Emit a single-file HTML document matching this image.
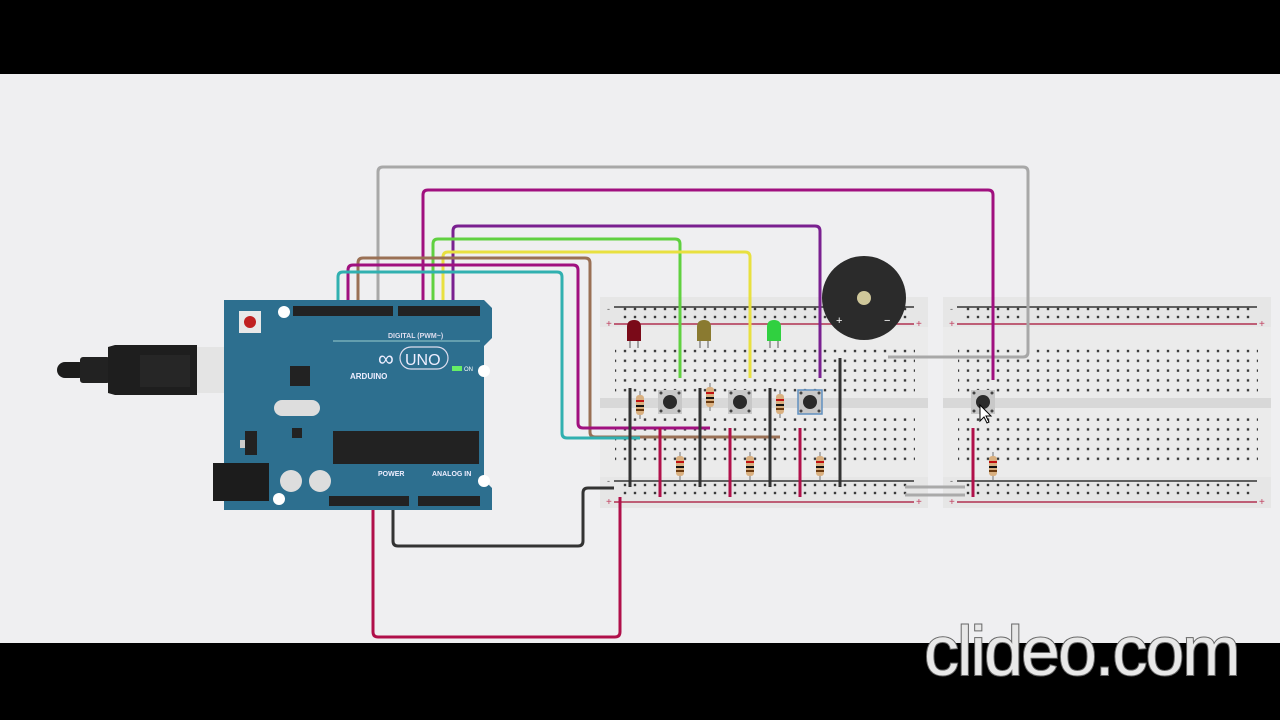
<!DOCTYPE html>
<html><head><meta charset="utf-8"><style>
html,body{margin:0;padding:0;width:1280px;height:720px;overflow:hidden;background:#efeff1}
svg{display:block}
</style></head><body>
<svg width="1280" height="720" viewBox="0 0 1280 720" xmlns="http://www.w3.org/2000/svg" font-family="Liberation Sans, sans-serif">
<defs>
<pattern id="hole" x="0" y="0" width="10" height="9.8" patternUnits="userSpaceOnUse"><rect x="3.8" y="3.8" width="2.4" height="2.4" fill="#3a3a3a"/></pattern>
<pattern id="rail" x="0" y="0" width="10" height="8" patternUnits="userSpaceOnUse"><rect x="3.8" y="2.8" width="2.4" height="2.4" fill="#3a3a3a"/></pattern>
<g id="bb">
<rect x="0" y="0" width="328" height="211" fill="#e6e6e6"/>
<rect x="0" y="30" width="328" height="150" fill="#ebebeb"/>
<rect x="0" y="101" width="328" height="10" fill="#d8d8d8"/>
<line x1="14" y1="10" x2="314" y2="10" stroke="#333" stroke-width="1.5"/>
<line x1="14" y1="27" x2="314" y2="27" stroke="#b03050" stroke-width="1.5"/>
<line x1="14" y1="184" x2="314" y2="184" stroke="#333" stroke-width="1.5"/>
<line x1="14" y1="205" x2="314" y2="205" stroke="#b03050" stroke-width="1.5"/>
<rect x="20" y="9" width="290" height="16" fill="url(#rail)"/>
<rect x="20" y="186" width="290" height="16" fill="url(#rail)"/>
<rect x="15" y="48" width="300" height="49" fill="url(#hole)"/>
<rect x="15" y="116" width="300" height="49" fill="url(#hole)"/>
<text x="6" y="30" font-size="10" fill="#c04060">+</text>
<text x="316" y="30" font-size="10" fill="#c04060">+</text>
<text x="6" y="208" font-size="10" fill="#c04060">+</text>
<text x="316" y="208" font-size="10" fill="#c04060">+</text>
<text x="7" y="15" font-size="9" fill="#555">-</text>
<text x="7" y="187" font-size="9" fill="#555">-</text>
</g>
<g id="res"><line x1="0" y1="-14" x2="0" y2="14" stroke="#999" stroke-width="1.5"/><rect x="-4" y="-10" width="8" height="20" rx="3" fill="#d9b080"/><rect x="-4" y="-5" width="8" height="2" fill="#c01010"/><rect x="-4" y="0" width="8" height="2" fill="#111"/><rect x="-4" y="4" width="8" height="2" fill="#6a3a10"/></g>
<g id="btn"><rect x="-12" y="-12" width="24" height="24" fill="#c8c8c8"/><circle r="7" fill="#2a2a2a"/><circle cx="-9" cy="-9" r="1.5" fill="#444"/><circle cx="9" cy="-9" r="1.5" fill="#444"/><circle cx="-9" cy="9" r="1.5" fill="#444"/><circle cx="9" cy="9" r="1.5" fill="#444"/></g>
</defs>

<rect x="0" y="0" width="1280" height="74" fill="#000"/>

<use href="#bb" x="600" y="297"/>
<use href="#bb" x="943" y="297"/>

<g fill="none" stroke-width="3" stroke-linejoin="round">
<path d="M378 310 V172 Q378 167 383 167 H1023 Q1028 167 1028 172 V352 Q1028 357 1023 357 H888" stroke="#a8a8a8"/>
<path d="M423 310 V195 Q423 190 428 190 H988 Q993 190 993 195 V380" stroke="#a0107f"/>
<path d="M453 310 V231 Q453 226 458 226 H815 Q820 226 820 231 V378" stroke="#7a2090"/>
<path d="M433 310 V244 Q433 239 438 239 H675 Q680 239 680 244 V378" stroke="#60d040"/>
<path d="M443 310 V257 Q443 252 448 252 H745 Q750 252 750 257 V378" stroke="#e8e040"/>
<path d="M358 310 V263 Q358 258 363 258 H585 Q590 258 590 263 V432 Q590 437 595 437 H780" stroke="#9a7055"/>
<path d="M348 310 V270 Q348 265 353 265 H573 Q578 265 578 270 V423 Q578 428 583 428 H710" stroke="#a0107f"/>
<path d="M338 310 V277 Q338 272 343 272 H557 Q562 272 562 277 V433 Q562 438 567 438 H640" stroke="#30b0b0"/>
<path d="M373 500 V632 Q373 637 378 637 H615 Q620 637 620 632 V497" stroke="#b0104a"/>
<path d="M393 500 V541 Q393 546 398 546 H578 Q583 546 583 541 V493 Q583 488 588 488 H614" stroke="#333"/>
<path d="M905 487 H965 M905 495 H965" stroke="#aaa"/>
</g>

<g stroke-width="3">
<line x1="630" y1="388" x2="630" y2="487" stroke="#333"/>
<line x1="700" y1="388" x2="700" y2="487" stroke="#333"/>
<line x1="770" y1="388" x2="770" y2="487" stroke="#333"/>
<line x1="840" y1="358" x2="840" y2="487" stroke="#333"/>
<line x1="660" y1="428" x2="660" y2="497" stroke="#b0104a"/>
<line x1="730" y1="428" x2="730" y2="497" stroke="#b0104a"/>
<line x1="800" y1="428" x2="800" y2="497" stroke="#b0104a"/>
<line x1="973" y1="428" x2="973" y2="497" stroke="#b0104a"/>
</g>

<use href="#res" x="640" y="405"/>
<use href="#res" x="710" y="397"/>
<use href="#res" x="780" y="404"/>
<use href="#res" x="680" y="466"/>
<use href="#res" x="750" y="466"/>
<use href="#res" x="820" y="466"/>
<use href="#res" x="993" y="466"/>

<use href="#btn" x="670" y="402"/>
<use href="#btn" x="740" y="402"/>
<use href="#btn" x="810" y="402"/>
<rect x="798" y="390" width="24" height="24" fill="none" stroke="#6090c0" stroke-width="1.5"/>
<use href="#btn" x="983" y="402"/>
<path d="M980 405 l0 16 l4 -4 l3 6 l2 -1 l-3 -6 l5 0 z" fill="#fff" stroke="#000"/>

<g>
<line x1="630" y1="340" x2="630" y2="348" stroke="#888" stroke-width="1.5"/><line x1="638" y1="340" x2="638" y2="348" stroke="#888" stroke-width="1.5"/>
<path d="M627 341 V327 Q627 320 634 320 Q641 320 641 327 V341 Z" fill="#7a0a18"/>
<line x1="700" y1="340" x2="700" y2="348" stroke="#888" stroke-width="1.5"/><line x1="708" y1="340" x2="708" y2="348" stroke="#888" stroke-width="1.5"/>
<path d="M697 341 V327 Q697 320 704 320 Q711 320 711 327 V341 Z" fill="#8a7a30"/>
<line x1="770" y1="340" x2="770" y2="348" stroke="#888" stroke-width="1.5"/><line x1="778" y1="340" x2="778" y2="348" stroke="#888" stroke-width="1.5"/>
<path d="M767 341 V327 Q767 320 774 320 Q781 320 781 327 V341 Z" fill="#30d040"/>
</g>

<circle cx="864" cy="298" r="42" fill="#2b2b2b"/>
<circle cx="864" cy="298" r="7" fill="#cfc79a"/>
<text x="836" y="324" font-size="11" fill="#fff">+</text>
<text x="884" y="324" font-size="11" fill="#fff">−</text>

<rect x="57" y="362" width="30" height="16" rx="8" fill="#1c1c1c"/>
<rect x="80" y="357" width="30" height="26" rx="3" fill="#222"/>
<path d="M108 347 L115 345 H197 V395 H115 L108 393 Z" fill="#1e1e1e"/>
<rect x="140" y="355" width="50" height="32" fill="#262626"/>
<rect x="197" y="347" width="68" height="46" fill="#e4e4e4"/>

<path d="M224 300 H484 L492 308 V338 L484 346 V480 L492 488 V510 H224 Z" fill="#2d6f8f"/>
<rect x="239" y="311" width="22" height="22" fill="#e8e8e8"/><circle cx="250" cy="322" r="6" fill="#c02020"/>
<circle cx="284" cy="312" r="6" fill="#fff"/><circle cx="484" cy="371" r="6" fill="#fff"/><circle cx="484" cy="481" r="6" fill="#fff"/><circle cx="279" cy="499" r="6" fill="#fff"/>
<rect x="293" y="306" width="100" height="10" fill="#222"/>
<rect x="398" y="306" width="82" height="10" fill="#222"/>
<rect x="329" y="496" width="80" height="10" fill="#222"/>
<rect x="418" y="496" width="62" height="10" fill="#222"/>
<line x1="333" y1="341" x2="480" y2="341" stroke="#9cc" stroke-width="1"/>
<text x="388" y="338" font-size="7" fill="#dde" font-weight="bold">DIGITAL (PWM~)</text>
<text x="378" y="366" font-size="22" fill="#eef">∞</text>
<rect x="400" y="347" width="48" height="22" rx="11" fill="none" stroke="#dde" stroke-width="1.2"/>
<text x="405" y="365" font-size="16" fill="#eef">UNO</text>
<text x="350" y="379" font-size="8" fill="#eef" font-weight="bold">ARDUINO</text>
<rect x="290" y="366" width="20" height="20" fill="#222"/>
<rect x="274" y="400" width="46" height="16" rx="8" fill="#ddd"/>
<rect x="292" y="428" width="10" height="10" fill="#222"/>
<rect x="245" y="431" width="12" height="24" fill="#222"/><rect x="240" y="440" width="5" height="8" fill="#ccc"/>
<rect x="213" y="463" width="56" height="38" fill="#1c1c1c"/>
<circle cx="291" cy="481" r="11" fill="#ddd"/><circle cx="320" cy="481" r="11" fill="#ddd"/>
<rect x="333" y="431" width="146" height="33" fill="#222"/>
<rect x="452" y="366" width="10" height="5" fill="#6e6"/><text x="464" y="371" font-size="6" fill="#fff">ON</text>
<text x="378" y="476" font-size="7" fill="#eef" font-weight="bold">POWER</text>
<text x="432" y="476" font-size="7" fill="#eef" font-weight="bold">ANALOG IN</text>

<rect x="0" y="643" width="1280" height="77" fill="#000"/>
<text x="924" y="675" font-size="70" letter-spacing="-2" fill="#e8e8e8" stroke="#666" stroke-width="2" paint-order="stroke">clideo.com</text>
</svg>
</body></html>
